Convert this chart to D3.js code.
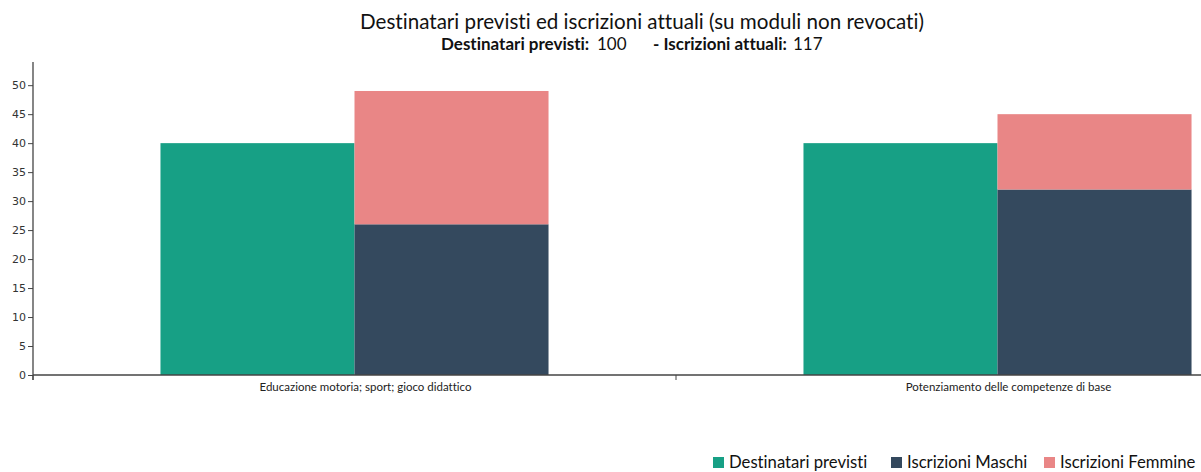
<!DOCTYPE html>
<html><head><meta charset="utf-8">
<script src="https://cdn.jsdelivr.net/npm/d3@7/dist/d3.min.js"></script>
<style>body{margin:0;background:#fff}svg{display:block}text{font-variant-ligatures:none;font-feature-settings:"liga" 0}</style>
</head><body><svg id="c" width="1201" height="472"></svg>
<script>
const categories = ["Educazione motoria; sport; gioco didattico", "Potenziamento delle competenze di base"];
const destinatari = [40, 40];
const maschi = [26, 32];
const femmine = [23, 13];
const seriesNames = ["Destinatari previsti", "Iscrizioni Maschi", "Iscrizioni Femmine"];
const colors = ["#17a085", "#34495e", "#e98686"];
const yTicks = [0, 5, 10, 15, 20, 25, 30, 35, 40, 45, 50];

const svg = d3.select("#c");
const y = d3.scaleLinear().domain([0, 54]).range([375, 62]);
const x = d3.scaleBand().domain(categories).range([33, 1319]).padding(0);
const inner = d3.scaleBand().domain(["d", "i"]).range([0, x.bandwidth()]).paddingInner(0).paddingOuter(0.657);

// bars
categories.forEach((c, i) => {
  const x0 = x(c);
  svg.append("rect").attr("x", x0 + inner("d")).attr("width", inner.bandwidth())
    .attr("y", y(destinatari[i])).attr("height", y(0) - y(destinatari[i])).attr("fill", colors[0]);
  svg.append("rect").attr("x", x0 + inner("i")).attr("width", inner.bandwidth())
    .attr("y", y(maschi[i])).attr("height", y(0) - y(maschi[i])).attr("fill", colors[1]);
  svg.append("rect").attr("x", x0 + inner("i")).attr("width", inner.bandwidth())
    .attr("y", y(maschi[i] + femmine[i])).attr("height", y(maschi[i]) - y(maschi[i] + femmine[i])).attr("fill", colors[2]);
});

// y axis
const ya = svg.append("g").attr("transform", "translate(33,0)")
  .call(d3.axisLeft(y).tickValues(yTicks).tickSize(5).tickPadding(2));
ya.select(".domain").attr("d", "M0,62V380").attr("stroke", "#444").attr("stroke-width", 1.3);
ya.selectAll(".tick line").attr("stroke", "#444");
ya.selectAll("text").attr("font-family", "DejaVu Sans, Verdana, sans-serif").attr("font-size", 11).attr("fill", "#333");

// x axis
const xa = svg.append("g").attr("transform", "translate(0,375)");
xa.append("line").attr("x1", 33).attr("x2", 1201).attr("y1", 0).attr("y2", 0).attr("stroke", "#444").attr("stroke-width", 1.5);
xa.selectAll("line.t").data(categories).enter().append("line").attr("class", "t")
  .attr("x1", d => x(d)).attr("x2", d => x(d)).attr("y1", 0).attr("y2", 5).attr("stroke", "#444");
xa.selectAll("text").data(categories).enter().append("text")
  .attr("x", d => x(d) + x.bandwidth() / 2 + 11).attr("y", 16)
  .attr("text-anchor", "middle").attr("font-family", "Lato, 'Open Sans', sans-serif").attr("font-size", 11.5).attr("fill", "#222")
  .text(d => d);

// title
svg.append("text").attr("x", 642).attr("y", 29).attr("text-anchor", "middle")
  .attr("font-family", "Lato, 'Open Sans', sans-serif").attr("font-size", 20.6).attr("fill", "#111")
  .text("Destinatari previsti ed iscrizioni attuali (su moduli non revocati)");
const sub = svg.append("text").attr("y", 50).attr("font-family", "Lato, 'Open Sans', sans-serif").attr("font-size", 17).attr("fill", "#111");
sub.append("tspan").attr("x", 441).attr("font-weight", "bold").text("Destinatari previsti:");
sub.append("tspan").attr("x", 597).text("100");
sub.append("tspan").attr("x", 653).attr("font-weight", "bold").text("- Iscrizioni attuali:");
sub.append("tspan").attr("x", 793).text("117");

// legend
const legX = [713, 891, 1044];
const lg = svg.append("g");
seriesNames.forEach((n, i) => {
  lg.append("rect").attr("x", legX[i]).attr("y", 457).attr("width", 11).attr("height", 11).attr("fill", colors[i]);
  lg.append("text").attr("x", legX[i] + 16).attr("y", 468).attr("font-family", "Lato, 'Open Sans', sans-serif")
    .attr("font-size", 16.7).attr("fill", "#111").text(n);
});
</script></body></html>
